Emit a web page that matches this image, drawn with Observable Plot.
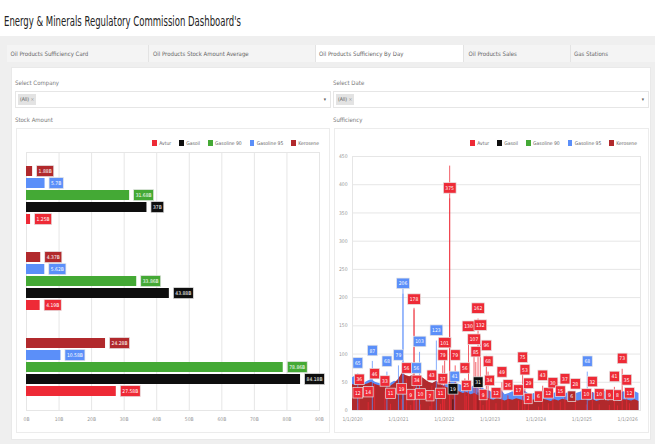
<!DOCTYPE html>
<html><head><meta charset="utf-8">
<script src="https://cdn.jsdelivr.net/npm/d3@7"></script>
<script src="https://cdn.jsdelivr.net/npm/@observablehq/plot@0.6"></script>
<style>
body{margin:0;width:655px;height:444px;background:#efefef;position:relative;overflow:hidden;font-family:"Liberation Sans Narrow","DejaVu Sans Condensed","Open Sans",sans-serif;font-stretch:condensed;}
#hdr{position:absolute;left:0;top:0;width:655px;height:36px;background:#fff;}
#title{position:absolute;left:4px;top:13px;font-size:14px;color:#222;white-space:nowrap;display:inline-block;transform-origin:0 0;}
.tab{position:absolute;top:45px;height:17px;line-height:17px;font-size:6px;color:#666;box-sizing:border-box;background:#f4f4f4;border-right:1px solid #e3e3e3;white-space:nowrap;}
.tab.active{background:#fff;}
#panel{position:absolute;left:11px;top:67px;width:640px;height:373px;background:#fff;border:1px solid #e9e9e9;box-sizing:border-box;}
.lbl{position:absolute;font-size:6px;color:#7a7a7a;}
.sel{position:absolute;top:91px;height:17px;border:1px solid #e6e6e6;box-sizing:border-box;background:#fff;}
.chip{position:absolute;left:2px;top:2px;height:11px;line-height:11px;padding:0 2px;background:#e3e3e3;font-size:5px;color:#555;}
.chip i{font-style:normal;color:#999;margin-left:1.5px;}
.arrow{position:absolute;right:4px;top:0;line-height:15px;font-size:5px;color:#555;}
.box{position:absolute;top:128px;height:305px;border:1px solid #ececec;box-sizing:border-box;background:#fff;}
.legend{position:absolute;top:140px;height:6px;display:flex;justify-content:flex-end;align-items:center;font-size:5px;color:#666;}
.legend .sw{display:inline-block;width:4.5px;height:5.5px;margin-right:2.5px;}
.legend .item{display:flex;align-items:center;margin-left:8px;}
.chart{position:absolute;top:148px;}
</style>
</head><body>
<div id="hdr"></div>
<div id="title">Energy &amp; Minerals Regulatory Commission Dashboard's</div>
<div class="tab" style="left:7px;width:141.5px;padding-left:3.5px">Oil Products Sufficiency Card</div>
<div class="tab" style="left:148.5px;width:167.5px;padding-left:4.5px">Oil Products Stock Amount Average</div>
<div class="tab active" style="left:316px;width:148px;padding-left:3px">Oil Products Sufficiency By Day</div>
<div class="tab" style="left:464px;width:107px;padding-left:4.5px">Oil Products Sales</div>
<div class="tab" style="left:571px;width:84px;padding-left:3px;border-right:none">Gas Stations</div>
<div id="panel"></div>
<div class="lbl" style="left:15px;top:79px">Select Company</div>
<div class="sel" style="left:15px;width:316px"><span class="chip">(All)<i>×</i></span><span class="arrow">▾</span></div>
<div class="lbl" style="left:333px;top:79px">Select Date</div>
<div class="sel" style="left:333px;width:316px"><span class="chip">(All)<i>×</i></span><span class="arrow">▾</span></div>
<div class="lbl" style="left:15px;top:116px">Stock Amount</div>
<div class="lbl" style="left:333px;top:116px">Sufficiency</div>
<div class="box" style="left:16px;width:314px"></div>
<div class="box" style="left:334px;width:315px"></div>
<div class="legend" id="legL" style="left:16px;width:303px"></div>
<div class="legend" id="legR" style="left:334px;width:303px"></div>
<div class="chart" id="left" style="left:16px"></div>
<div class="chart" id="right" style="left:334px"></div>
<script>
const FONT = '"Liberation Sans Narrow","DejaVu Sans Condensed","Open Sans",sans-serif';

// ---- shared categories ----
const products = ["Avtur", "Gasoil", "Gasoline 90", "Gasoline 95", "Kerosene"];
const productColors = ["#ee2a36", "#0e0e0e", "#44a935", "#5b8ff9", "#b1292c"];

// ---- Stock Amount (billions) ----
const companies = ["Company 1", "Company 2", "Company 3"];
const stockCompany1 = [1.25, 37, 31.68, 5.7, 1.88];
const stockCompany2 = [4.19, 43.88, 33.86, 5.62, 4.37];
const stockCompany3 = [27.58, 84.18, 78.86, 10.58, 24.28];
const stockTicks = [0, 10, 20, 30, 40, 50, 60, 70, 80, 90];

// ---- Sufficiency by day ----
const suffTicks = [0, 50, 100, 150, 200, 250, 300, 350, 400, 450];
const yearTicks = ["2020-01-01", "2021-01-01", "2022-01-01", "2023-01-01", "2024-01-01", "2025-01-01", "2026-01-01"];
const keroseneMonthly = [
  46, 44, 48, 45, 47, 50, 46, 44, 45, 47, 43, 48,
  55, 66, 62, 60, 63, 58, 60, 55, 50, 48, 52, 47,
  42, 40, 36, 38, 33, 30, 32, 28, 30, 26, 25, 24,
  20, 18, 22, 19, 17, 20, 18, 21, 19, 17, 20, 18,
  19, 17, 20, 18, 16, 19, 17, 20, 18, 16, 19, 17,
  18, 20, 17, 19, 16, 18, 20, 17, 19, 18, 16, 19,
  18, 17, 19, 16];
const gasoline95Monthly = [
  58, 62, 52, 48, 52, 55, 50, 48, 46, 50, 48, 52,
  50, 55, 58, 52, 55, 50, 48, 52, 45, 48, 50, 46,
  44, 48, 52, 50, 46, 44, 42, 40, 45, 38, 40, 36,
  34, 30, 32, 36, 28, 30, 33, 29, 31, 35, 30, 28,
  32, 29, 34, 30, 27, 31, 33, 28, 30, 34, 29, 31,
  33, 30, 28, 32, 29, 31, 34, 30, 27, 32, 30, 33,
  31, 29, 33, 30];
const labelDates = [
  "2020-02-12", "2020-02-12", "2020-02-24", "2020-05-05", "2020-06-07", "2020-06-25", "2020-09-15", "2020-10-01", "2020-10-30",
  "2021-01-01", "2021-01-26", "2021-02-06", "2021-03-07", "2021-04-09", "2021-05-05", "2021-05-23", "2021-05-27", "2021-06-18",
  "2021-06-25", "2021-09-09", "2021-09-24", "2021-10-30", "2021-12-02", "2021-12-20", "2021-12-20",
  "2022-01-04", "2022-02-13", "2022-03-11", "2022-03-25", "2022-03-29", "2022-06-14", "2022-06-25", "2022-07-13", "2022-08-26",
  "2022-09-09", "2022-09-27", "2022-09-27", "2022-10-15", "2022-11-06", "2022-12-02", "2022-12-16", "2022-12-27",
  "2023-02-17", "2023-04-05", "2023-05-23", "2023-08-15", "2023-09-17", "2023-10-05", "2023-10-31", "2023-11-03",
  "2024-01-22", "2024-02-24", "2024-04-09", "2024-05-15", "2024-07-13", "2024-08-19", "2024-10-12", "2024-11-10",
  "2025-02-06", "2025-02-13", "2025-03-25", "2025-05-19", "2025-08-08", "2025-09-17", "2025-10-12", "2025-11-18", "2025-12-24",
  "2026-01-15"];
const labelValues = [
  12, 65, 36, 14, 87, 46, 33, 68, 11,
  79, 19, 206, 56, 9, 178, 56, 34, 103,
  10, 7, 43, 123, 11, 37, 79,
  101, 375, 19, 41, 79, 56, 25, 130, 107,
  85, 31, 162, 132, 9, 96, 68, 34,
  12, 49, 26, 17, 75, 53, 2, 29,
  6, 43, 12, 30, 15, 37, 6, 28,
  10, 68, 32, 10, 9, 41, 8, 73, 35,
  12];
const labelSeries = [
  "Avtur", "Gasoline 95", "Avtur", "Avtur", "Gasoline 95", "Avtur", "Avtur", "Gasoline 95", "Avtur",
  "Gasoline 95", "Avtur", "Gasoline 95", "Avtur", "Avtur", "Avtur", "Gasoline 95", "Avtur", "Gasoline 95",
  "Avtur", "Avtur", "Avtur", "Gasoline 95", "Avtur", "Avtur", "Avtur",
  "Avtur", "Avtur", "Gasoil", "Gasoline 95", "Avtur", "Avtur", "Avtur", "Avtur", "Avtur",
  "Avtur", "Gasoil", "Avtur", "Avtur", "Avtur", "Avtur", "Avtur", "Avtur",
  "Avtur", "Avtur", "Avtur", "Avtur", "Avtur", "Avtur", "Avtur", "Avtur",
  "Avtur", "Avtur", "Avtur", "Avtur", "Avtur", "Avtur", "Kerosene", "Avtur",
  "Avtur", "Gasoline 95", "Avtur", "Avtur", "Avtur", "Avtur", "Avtur", "Avtur", "Avtur",
  "Avtur"];
const peakDates = ["2022-02-13", "2021-02-06", "2021-05-05"];
const peakValues = [433, 216, 181];
const peakSeries = ["Avtur", "Gasoline 95", "Avtur"];

// ---- legends ----
function legend(id) {
  const el = document.getElementById(id);
  products.forEach((p, i) => {
    const it = document.createElement("span");
    it.className = "item";
    it.innerHTML = `<span class="sw" style="background:${productColors[i]}"></span>${p}`;
    el.appendChild(it);
  });
}
legend("legL"); legend("legR");

// ---- label boxes (drawn behind each text of the text mark, from its rendered size) ----
function addBoxes(svg, {padX, minW, h, start}) {
  svg.querySelectorAll(`g[aria-label="text"] text`).forEach(t => {
    const b = t.getBBox();
    const w = Math.max(b.width + 2 * padX, minW);
    const cx = b.x + b.width / 2, cy = b.y + b.height / 2;
    const r = document.createElementNS("http://www.w3.org/2000/svg", "rect");
    r.setAttribute("x", start ? b.x - padX : cx - w / 2);
    r.setAttribute("y", cy - h / 2);
    r.setAttribute("width", w);
    r.setAttribute("height", h);
    r.setAttribute("fill", t.getAttribute("fill"));
    r.setAttribute("stroke", "#e4e4e4");
    r.setAttribute("stroke-width", 0.7);
    if (t.getAttribute("transform")) r.setAttribute("transform", t.getAttribute("transform"));
    t.parentNode.insertBefore(r, t);
    t.setAttribute("fill", "#fff");
  });
}

// ---- left: Stock Amount ----
const stockByCompany = [stockCompany1, stockCompany2, stockCompany3];
const stockRows = companies.flatMap((c, i) => products.map((p, j) => ({company: c, product: p, value: stockByCompany[i][j]})));
const fmtB = v => (+v.toFixed(2)) + "B";

const left = Plot.plot({
  width: 314, height: 282,
  marginLeft: 10, marginRight: 11, marginTop: 4, marginBottom: 20,
  style: {background: "transparent", color: "#999", fontSize: "5px", fontFamily: FONT},
  x: {domain: [0, 90], label: null},
  y: {domain: products.slice().reverse(), paddingInner: 0.19, paddingOuter: 1.06, axis: null, label: null},
  fy: {domain: companies, padding: 0, axis: null, label: null},
  color: {domain: products, range: productColors},
  marks: [
    Plot.gridX(stockTicks, {stroke: "#e6e6e6", strokeOpacity: 1}),
    Plot.frame({facet: "super", stroke: "#e6e6e6"}),
    Plot.axisX(stockTicks, {tickSize: 0, tickPadding: 7, tickFormat: d => d + "B", label: null}),
    Plot.barX(stockRows, {x: "value", y: "product", fy: "company", fill: "product"}),
    Plot.text(stockRows, {x: "value", y: "product", fy: "company", text: d => fmtB(d.value), fill: "product",
      textAnchor: "start", dx: 6, fontSize: 5})
  ]
});
document.getElementById("left").appendChild(left);
addBoxes(left, {padX: 2, minW: 10, h: 11, start: true});

// ---- right: Sufficiency ----
const monthDates = d3.utcMonth.range(new Date(Date.UTC(2020, 0, 1)), new Date(Date.UTC(2026, 4, 1)));
const keroRows = monthDates.map((d, i) => ({date: d, value: keroseneMonthly[i]}));
const g95Rows = monthDates.map((d, i) => ({date: d, value: gasoline95Monthly[i]}));
const labelRows = labelDates.map((d, i) => ({date: new Date(d), value: labelValues[i], series: labelSeries[i]}));
const spikeRows = labelRows.concat(peakDates.map((d, i) => ({date: new Date(d), value: peakValues[i], series: peakSeries[i]})));
const fmtDate = d => `${d.getUTCMonth() + 1}/${d.getUTCDate()}/${d.getUTCFullYear()}`;

const right = Plot.plot({
  width: 315, height: 282,
  marginLeft: 18, marginRight: 9, marginTop: 8, marginBottom: 20,
  style: {background: "transparent", color: "#999", fontSize: "5px", fontFamily: FONT},
  x: {type: "utc", domain: [new Date("2020-01-01"), new Date("2026-04-13")], label: null},
  y: {domain: [0, 450], label: null},
  color: {domain: products, range: productColors},
  marks: [
    Plot.gridY(suffTicks, {stroke: "#e6e6e6", strokeOpacity: 1}),
    Plot.frame({stroke: "#e6e6e6"}),
    Plot.axisY(suffTicks, {tickSize: 0, tickPadding: 5, label: null}),
    Plot.axisX(yearTicks.map(d => new Date(d)), {tickSize: 0, tickPadding: 7, tickFormat: fmtDate, label: null}),
    Plot.areaY(g95Rows, {x: "date", y: "value", fill: productColors[3]}),
    Plot.areaY(keroRows, {x: "date", y: "value", fill: productColors[4]}),
    Plot.ruleX(spikeRows, {x: "date", y1: 0, y2: "value", stroke: "series", strokeWidth: 1, strokeOpacity: 0.75}),
    Plot.text(labelRows, {x: "date", y: "value", text: d => String(d.value), fill: "series", dy: -10.5, fontSize: 5})
  ]
});
document.getElementById("right").appendChild(right);
addBoxes(right, {padX: 2, minW: 8, h: 10.5, start: false});

// title width as in the dashboard
const title = document.getElementById("title");
title.style.transform = `scaleX(${237 / title.getBoundingClientRect().width})`;
</script>
</body></html>
